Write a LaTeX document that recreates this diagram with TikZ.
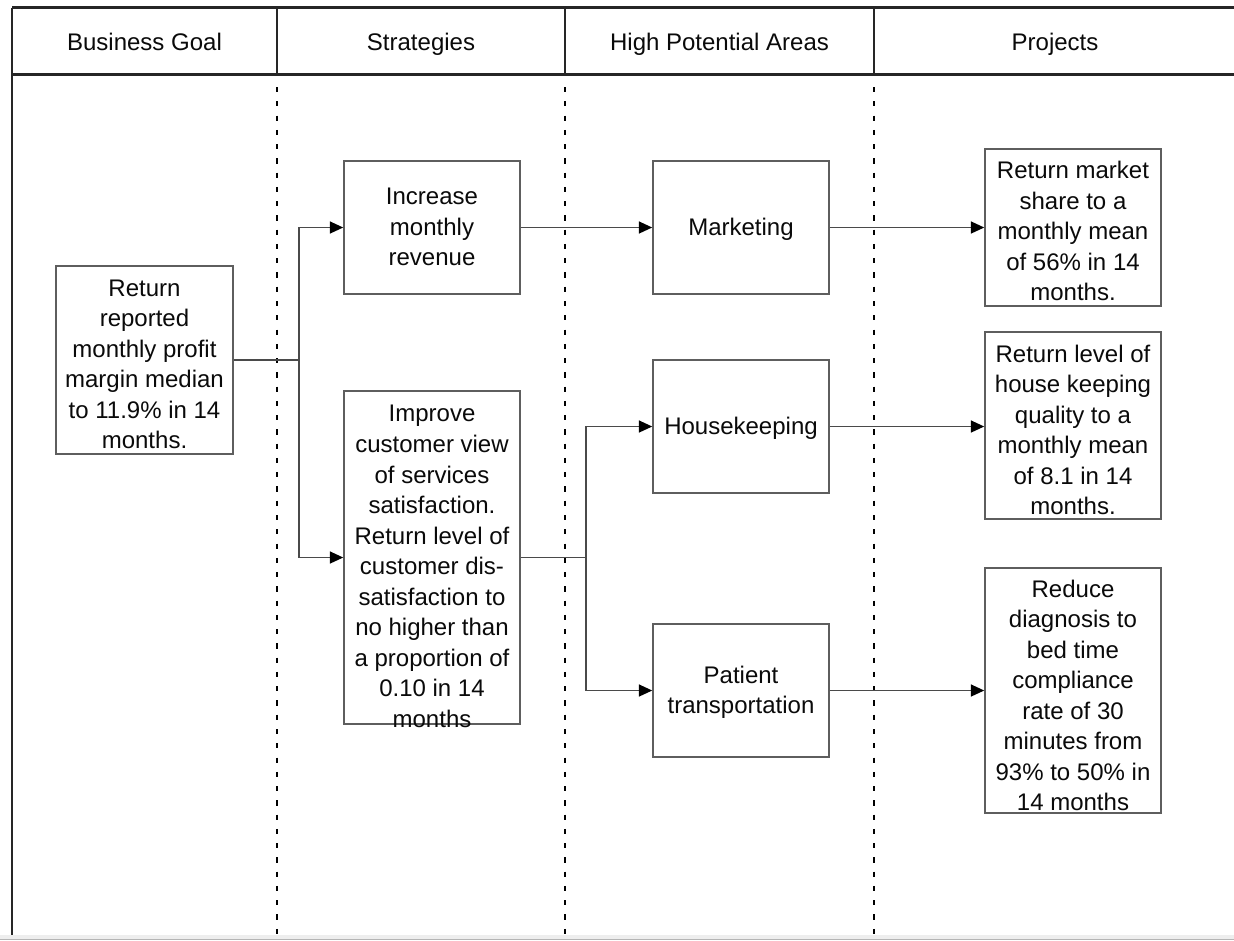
\documentclass[tikz,border=0pt]{standalone}
\usepackage{fontspec}
\setmainfont{Liberation Sans}
\usetikzlibrary{arrows.meta}
\definecolor{boxgray}{HTML}{5E5E5E}
\definecolor{linegray}{HTML}{4A4A4A}
\definecolor{txtcol}{HTML}{0A0A0A}
\definecolor{bandgray}{HTML}{EEEEEE}
\definecolor{bandline}{HTML}{B5B5B5}
\newcommand\mybox[5]{\node[boxst,minimum width={(#4-#2)*0.75pt},minimum height={(#5-#3)*0.75pt}] (#1) at ({(#2+#4)/2},{(#3+#5)/2}) {};}
\begin{document}
\begin{tikzpicture}[x=0.75pt,y=-0.75pt,
  boxst/.style={draw=boxgray,line width=1.2pt,rectangle,inner sep=0pt},
  txtst/.style={font=\fontsize{18}{22.9}\selectfont,align=center,text=txtcol,inner sep=0pt},
  hdrst/.style={font=\fontsize{18}{22.9}\selectfont,text=txtcol,inner sep=0pt,anchor=base},
  conn/.style={draw=linegray,line width=1.1pt},
  arr/.style={conn,-{Triangle[length=10pt,width=9pt,fill=black,color=black]}},
  framest/.style={draw=black!85,line width=1.8pt},
  dividerst/.style={draw=black,line width=1.8pt,dash pattern=on 3.9pt off 6.8pt}
]
\useasboundingbox (0,0) rectangle (1234,940);
\fill[white] (0,0) rectangle (1234,940);
% bottom band
\fill[bandgray] (0,935) rectangle (1234,940);
\draw[bandline,line width=0.8pt] (0,939.3) -- (1234,939.3);

% frame and header
\draw[framest] (12,7.5) -- (1234,7.5);
\draw[framest] (12,74.5) -- (1234,74.5);
\draw[framest] (12,7.5) -- (12,935);
\foreach \xx in {277,565,874} {
  \draw[framest] (\xx,7.5) -- (\xx,74.5);
  \draw[dividerst] (\xx,87) -- (\xx,935);
}
\node[hdrst] (h1) at (144.5,50.5) {Business Goal};
\node[hdrst] (h2) at (421,50.5) {Strategies};
\node[hdrst] (h3) at (719.5,50.5) {High Potential Areas};
\node[hdrst] (h4) at (1055,50.5) {Projects};

% boxes
\mybox{goal}{56}{266}{233}{454}
\mybox{s1}{344}{161}{520}{294}
\mybox{s2}{344}{391}{520}{724}
\mybox{a1}{653}{161}{829}{294}
\mybox{a2}{653}{360}{829}{493}
\mybox{a3}{653}{624}{829}{757}
\mybox{p1}{985}{149}{1161}{306}
\mybox{p2}{985}{332}{1161}{519}
\mybox{p3}{985}{568}{1161}{813}

% texts
\node[txtst] (goaltxt) at (144.5,364.5) {Return\\reported\\monthly profit\\margin median\\to 11.9\% in 14\\months.};
\node[txtst] (s1txt) at (432,227) {Increase\\monthly\\revenue};
\node[txtst] (s2txt) at (432,566.5) {Improve\\customer view\\of services\\satisfaction.\\Return level of\\customer dis-\\satisfaction to\\no higher than\\a proportion of\\0.10 in 14\\months};
\node[txtst] (a1txt) at (741,229) {Marketing};
\node[txtst] (a2txt) at (741,428) {Housekeeping};
\node[txtst] (a3txt) at (741,692.5) {Patient\\transportation};
\node[txtst] (p1txt) at (1073,231) {Return market\\share to a\\monthly mean\\of 56\% in 14\\months.};
\node[txtst] (p2txt) at (1073,430) {Return level of\\house keeping\\quality to a\\monthly mean\\of 8.1 in 14\\months.};
\node[txtst] (p3txt) at (1073,695.5) {Reduce\\diagnosis to\\bed time\\compliance\\rate of 30\\minutes from\\93\% to 50\% in\\14 months};

% connectors
\coordinate (j1) at (299,360);
\coordinate (j2) at (586,557.5);
\draw[conn] (goal.east) -- (j1);
\draw[arr] (j1) |- (s1.west);
\draw[arr] (j1) |- (s2.west);
\draw[arr] (s1.east) -- (a1.west);
\draw[conn] (s2.east) -- (j2);
\draw[arr] (j2) |- (a2.west);
\draw[arr] (j2) |- (a3.west);
\draw[arr] (a1.east) -- (a1.east -| p1.west);
\draw[arr] (a2.east) -- (a2.east -| p2.west);
\draw[arr] (a3.east) -- (a3.east -| p3.west);
\end{tikzpicture}
\end{document}
